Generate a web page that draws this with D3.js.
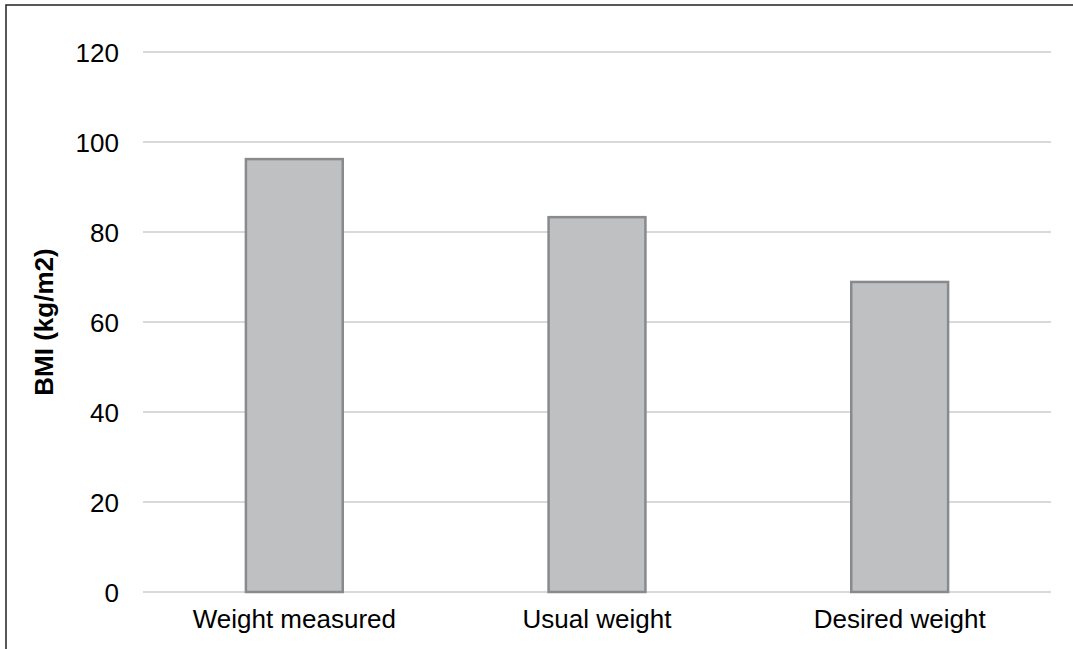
<!DOCTYPE html>
<html>
<head>
<meta charset="utf-8">
<script src="https://cdn.jsdelivr.net/npm/d3@7"></script>
<style>
  html, body { margin: 0; padding: 0; background: #fff; }
  svg { display: block; font-family: "Liberation Sans", Arial, sans-serif; }
</style>
</head>
<body>
<svg id="chart" width="1073" height="649"></svg>
<script>
const categories = ["Weight measured", "Usual weight", "Desired weight"];
const values = [96.2, 83.3, 68.9];
const yTicks = [0, 20, 40, 60, 80, 100, 120];
const yTitle = "BMI (kg/m2)";

const svg = d3.select("#chart");
const W = 1073, H = 649;
const plot = { left: 143, right: 1051, top: 52, bottom: 592 };

// frame (top and left)
svg.append("path")
  .attr("d", `M6,${H} V5 H${W}`)
  .attr("fill", "none")
  .attr("stroke", "#222")
  .attr("stroke-width", 1.5);

const x = d3.scaleBand()
  .domain(categories)
  .range([plot.left, plot.right])
  .paddingInner(0.68)
  .paddingOuter(0.34);

const y = d3.scaleLinear()
  .domain([0, 120])
  .range([plot.bottom, plot.top]);

// gridlines
svg.append("g")
  .selectAll("line")
  .data(yTicks)
  .join("line")
  .attr("x1", plot.left)
  .attr("x2", plot.right)
  .attr("y1", d => y(d))
  .attr("y2", d => y(d))
  .attr("stroke", "#d9d9d9")
  .attr("stroke-width", 2);

// y tick labels
const yAxis = d3.axisLeft(y).tickValues(yTicks).tickSize(0).tickPadding(0);
const gy = svg.append("g")
  .attr("transform", `translate(119,0)`)
  .call(yAxis);
gy.select(".domain").remove();
gy.selectAll("text")
  .attr("font-size", 26)
  .attr("font-family", "Liberation Sans, Arial, sans-serif")
  .attr("fill", "#000")
  .attr("dy", "0.36em");

// bars
svg.append("g")
  .selectAll("rect")
  .data(values)
  .join("rect")
  .attr("x", (d, i) => x(categories[i]))
  .attr("width", x.bandwidth())
  .attr("y", d => y(d))
  .attr("height", d => y(0) - y(d))
  .attr("fill", "#bfc0c2")
  .attr("stroke", "#898a8d")
  .attr("stroke-width", 2.5);

// x labels
const xAxis = d3.axisBottom(x).tickSize(0).tickPadding(0);
const gx = svg.append("g")
  .attr("transform", `translate(0,628)`)
  .call(xAxis);
gx.select(".domain").remove();
gx.selectAll("text")
  .attr("font-size", 26)
  .attr("font-family", "Liberation Sans, Arial, sans-serif")
  .attr("fill", "#000")
  .attr("dy", 0)
  .attr("y", 0);

// y title
svg.append("text")
  .attr("transform", `translate(53,${(plot.top + plot.bottom) / 2}) rotate(-90)`)
  .attr("text-anchor", "middle")
  .attr("font-size", 26)
  .attr("font-weight", "bold")
  .attr("fill", "#000")
  .text(yTitle);
</script>
</body>
</html>
